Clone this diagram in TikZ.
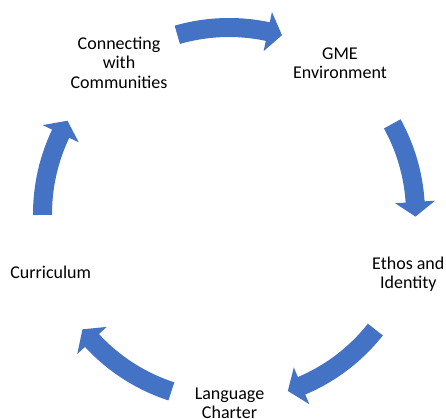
\documentclass[tikz,border=0pt]{standalone}
\usepackage{fontspec}
\setmainfont{Carlito}
\definecolor{smartblue}{HTML}{4472C4}
\tikzset{
  lbl/.style={align=center, inner sep=0pt, font=\fontsize{18pt}{19.5pt}\selectfont},
  cycarrow/.style={fill=smartblue},
}
\newcommand{\CycArrow}[2]{%
  \fill[cycarrow] (#1:196pt) arc[start angle=#1, end angle=#2+4.5, radius=196pt]
    -- (#2+4.5:206.5pt) -- (#2:186.5pt) -- (#2+4.5:166.5pt) -- (#2+4.5:177pt)
    arc[start angle=#2+4.5, end angle=#1, radius=177pt] -- cycle;}
\begin{document}
\begin{tikzpicture}
\useasboundingbox (0,0) rectangle (446pt,418pt);
\begin{scope}[shift={(229.5pt,201pt)}]
  \node[lbl] (conn) at (126:188pt) {Connecting\strut\\with\strut\\Communities\strut};
  \node[lbl] (gme)  at (54:188pt)  {GME\strut\\Environment\strut};
  \node[lbl] (ethos) at (-18:188pt) {Ethos and\strut\\Identity\strut};
  \node[lbl] (lang) at (-90:188pt) {Language\strut\\Charter\strut};
  \node[lbl] (curr) at (198:188pt) {Curriculum\strut};
\end{scope}
\begin{scope}[shift={(229pt,204pt)}]
  \CycArrow{106.1}{73.5}
  \CycArrow{28.9}{-0.8}
  \CycArrow{-38.3}{-71.6}
  \CycArrow{252.0}{218.2}
  \CycArrow{180.3}{150.0}
\end{scope}
\end{tikzpicture}
\end{document}
